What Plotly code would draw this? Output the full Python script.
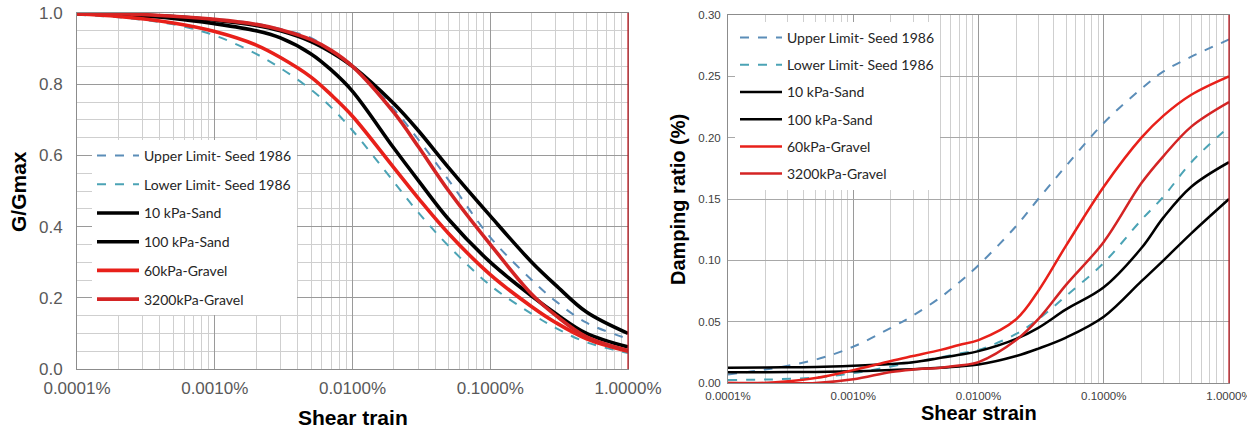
import plotly.graph_objects as go

# ---------------- data ----------------
strain = [0.0001, 0.0002, 0.0005, 0.001, 0.002, 0.003, 0.005, 0.007, 0.01,
          0.02, 0.03, 0.05, 0.1, 0.2, 0.3, 0.5, 1.0]

series_names = ["Upper Limit- Seed 1986", "Lower Limit- Seed 1986", "10 kPa-Sand",
                "100 kPa-Sand", "60kPa-Gravel", "3200kPa-Gravel"]

# G/Gmax (left chart)
g_upper_seed = [1.0, 0.998, 0.99, 0.983, 0.97, 0.955, 0.93, 0.893, 0.85,
                0.73, 0.645, 0.53, 0.37, 0.25, 0.19, 0.13, 0.085]
g_lower_seed = [0.995, 0.988, 0.968, 0.937, 0.885, 0.845, 0.785, 0.735, 0.67,
                0.525, 0.44, 0.345, 0.235, 0.155, 0.115, 0.075, 0.045]
g_sand_10 = [0.998, 0.995, 0.985, 0.97, 0.95, 0.93, 0.885, 0.84, 0.78,
             0.62, 0.53, 0.42, 0.30, 0.205, 0.155, 0.10, 0.062]
g_sand_100 = [1.0, 0.997, 0.99, 0.98, 0.965, 0.95, 0.92, 0.89, 0.85,
              0.745, 0.67, 0.565, 0.43, 0.30, 0.235, 0.16, 0.10]
g_gravel_60 = [0.997, 0.99, 0.972, 0.948, 0.91, 0.875, 0.82, 0.77, 0.71,
               0.565, 0.48, 0.38, 0.265, 0.175, 0.13, 0.085, 0.05]
g_gravel_3200 = [1.0, 0.998, 0.991, 0.982, 0.968, 0.953, 0.925, 0.895, 0.85,
                 0.72, 0.625, 0.50, 0.35, 0.21, 0.15, 0.09, 0.052]

# Damping ratio (right chart)
d_upper_seed = [0.007, 0.011, 0.019, 0.0296, 0.045, 0.055, 0.07, 0.082, 0.096,
                0.128, 0.15, 0.177, 0.212, 0.24, 0.254, 0.266, 0.280]
d_lower_seed = [0.0025, 0.0028, 0.0045, 0.008, 0.0135, 0.017, 0.021, 0.024, 0.027,
                0.040, 0.052, 0.071, 0.098, 0.133, 0.152, 0.18, 0.209]
d_sand_10 = [0.0125, 0.0127, 0.013, 0.014, 0.0155, 0.017, 0.0205, 0.023, 0.026,
             0.036, 0.045, 0.06, 0.078, 0.11, 0.135, 0.16, 0.18]
d_sand_100 = [0.0087, 0.0088, 0.009, 0.0095, 0.0105, 0.0113, 0.0125, 0.0135, 0.015,
              0.022, 0.028, 0.037, 0.054, 0.083, 0.10, 0.122, 0.15]
d_gravel_60 = [0.0, 0.0, 0.004, 0.0105, 0.018, 0.022, 0.027, 0.031, 0.035,
               0.052, 0.075, 0.112, 0.16, 0.20, 0.218, 0.235, 0.25]
d_gravel_3200 = [0.0, 0.0, 0.0, 0.003, 0.009, 0.011, 0.0125, 0.0142, 0.017,
                 0.035, 0.052, 0.08, 0.115, 0.163, 0.185, 0.209, 0.229]

x_tick_vals = [0.0001, 0.001, 0.01, 0.1, 1.0]
x_tick_text = ["0.0001%", "0.0010%", "0.0100%", "0.1000%", "1.0000%"]

left_x_title = "Shear train"
left_y_title = "G/Gmax"
right_x_title = "Shear strain"
right_y_title = "Damping ratio (%)"

# ---------------- styling ----------------
W, H = 1247, 430
colors = ["#5B8DB8", "#4BA3B5", "#000000", "#000000", "#E8201A", "#D42424"]
dashes = ["dash", "dash", "solid", "solid", "solid", "solid"]
left_widths = [2, 2, 3.6, 3.6, 3.6, 3.6]
right_widths = [2, 2, 2.5, 2.5, 2.5, 2.5]

left_series = [g_upper_seed, g_lower_seed, g_sand_10, g_sand_100, g_gravel_60, g_gravel_3200]
right_series = [d_upper_seed, d_lower_seed, d_sand_10, d_sand_100, d_gravel_60, d_gravel_3200]

fig = go.Figure()
for i, (name, ys) in enumerate(zip(series_names, left_series)):
    fig.add_trace(go.Scatter(
        x=strain, y=ys, name=name, mode="lines",
        line=dict(color=colors[i], width=left_widths[i], dash=dashes[i], shape="spline", smoothing=1.0),
        xaxis="x", yaxis="y", legend="legend", legendgroup="L%d" % i))
for i, (name, ys) in enumerate(zip(series_names, right_series)):
    fig.add_trace(go.Scatter(
        x=strain, y=ys, name=name, mode="lines",
        line=dict(color=colors[i], width=right_widths[i], dash=dashes[i], shape="spline", smoothing=1.0),
        xaxis="x2", yaxis="y2", legend="legend2", legendgroup="R%d" % i))

minor_vals = [k * 10 ** e for e in range(-4, 0) for k in range(2, 10)]

def px_x(p):
    return p / W

def px_y(p):
    return 1 - p / H

tick_font_l = dict(family="Liberation Sans, Arial", size=17, color="#595959")
tick_font_r = dict(family="Liberation Sans, Arial", size=11.5, color="#404040")
major_grid = "#9a9a9a"
minor_grid = "#cfcfcf"

fig.update_layout(
    template="none",
    width=W, height=H, margin=dict(l=0, r=0, t=0, b=0, autoexpand=False),
    paper_bgcolor="white", plot_bgcolor="white",
    xaxis=dict(type="log", domain=[px_x(77), px_x(628)], range=[-4, 0], automargin=False,
               tickvals=x_tick_vals, ticktext=x_tick_text, tickfont=tick_font_l,
               showgrid=True, gridcolor=major_grid, gridwidth=1,
               minor=dict(tickvals=minor_vals, showgrid=True, gridcolor=minor_grid, gridwidth=1),
               showline=True, linecolor="#8c8c8c", mirror=True, ticks="", zeroline=False,
               ticklabelstandoff=4, ticklabeloverflow="allow", anchor="y"),
    yaxis=dict(domain=[px_y(369), px_y(13)], range=[0, 1.0], dtick=0.2, tickformat=".1f",
               automargin=False,
               tickfont=tick_font_l, showgrid=True, gridcolor=major_grid,
               minor=dict(dtick=0.05, showgrid=True, gridcolor=minor_grid),
               showline=True, linecolor="#8c8c8c", mirror=True, ticks="", zeroline=False,
               ticklabelstandoff=10, ticklabeloverflow="allow", anchor="x"),
    xaxis2=dict(type="log", domain=[px_x(728), px_x(1229)], range=[-4, 0], automargin=False,
                tickvals=x_tick_vals, ticktext=x_tick_text, tickfont=tick_font_r,
                showgrid=True, gridcolor=major_grid, gridwidth=1,
                minor=dict(tickvals=minor_vals, showgrid=True, gridcolor=minor_grid, gridwidth=1),
                showline=True, linecolor="#8c8c8c", mirror=True, ticks="", zeroline=False,
                ticklabelstandoff=2, ticklabeloverflow="allow", anchor="y2"),
    yaxis2=dict(domain=[px_y(383), px_y(15)], range=[0, 0.30], dtick=0.05, tickformat=".2f",
                automargin=False,
                tickfont=tick_font_r, showgrid=True, gridcolor="#a8a8a8",
                showline=True, linecolor="#8c8c8c", mirror=True, ticks="", zeroline=False,
                ticklabelstandoff=4, ticklabeloverflow="allow", anchor="x2"),
    legend=dict(x=px_x(92), y=px_y(140), xanchor="left", yanchor="top",
                bgcolor="white", borderwidth=0, traceorder="grouped", tracegroupgap=7.5,
                font=dict(family="Lato", size=14, color="#262626"), itemwidth=42),
    legend2=dict(x=px_x(735), y=px_y(22), xanchor="left", yanchor="top",
                 bgcolor="white", borderwidth=0, traceorder="grouped", tracegroupgap=6,
                 font=dict(family="Lato", size=14, color="#262626"), itemwidth=42),
    showlegend=True,
)

# red right-edge lines
for xr, yr in (("x domain", "y domain"), ("x2 domain", "y2 domain")):
    fig.add_shape(type="line", xref=xr, yref=yr, x0=1, x1=1, y0=0, y1=1,
                  line=dict(color="#C0141B", width=1.2), layer="above")

title_font = dict(family="Liberation Sans, Arial", size=21, color="#000000")
fig.add_annotation(text="<b>%s</b>" % left_y_title, xref="paper", yref="paper",
                   x=px_x(18), y=px_y(192), textangle=-90, showarrow=False,
                   font=title_font, xanchor="center", yanchor="middle")
fig.add_annotation(text="<b>%s</b>" % left_x_title, xref="paper", yref="paper",
                   x=px_x(353), y=px_y(417), showarrow=False,
                   font=title_font, xanchor="center", yanchor="middle")
fig.add_annotation(text="<b>%s</b>" % right_y_title, xref="paper", yref="paper",
                   x=px_x(678), y=px_y(200), textangle=-90, showarrow=False,
                   font=dict(family="Liberation Sans, Arial", size=20, color="#000000"),
                   xanchor="center", yanchor="middle")
fig.add_annotation(text="<b>%s</b>" % right_x_title, xref="paper", yref="paper",
                   x=px_x(979), y=px_y(413), showarrow=False,
                   font=dict(family="Liberation Sans, Arial", size=20, color="#000000"),
                   xanchor="center", yanchor="middle")

fig.write_html("out.html", config={"displayModeBar": False},
               post_script="document.body.style.margin='0';document.body.style.overflow='hidden';")
